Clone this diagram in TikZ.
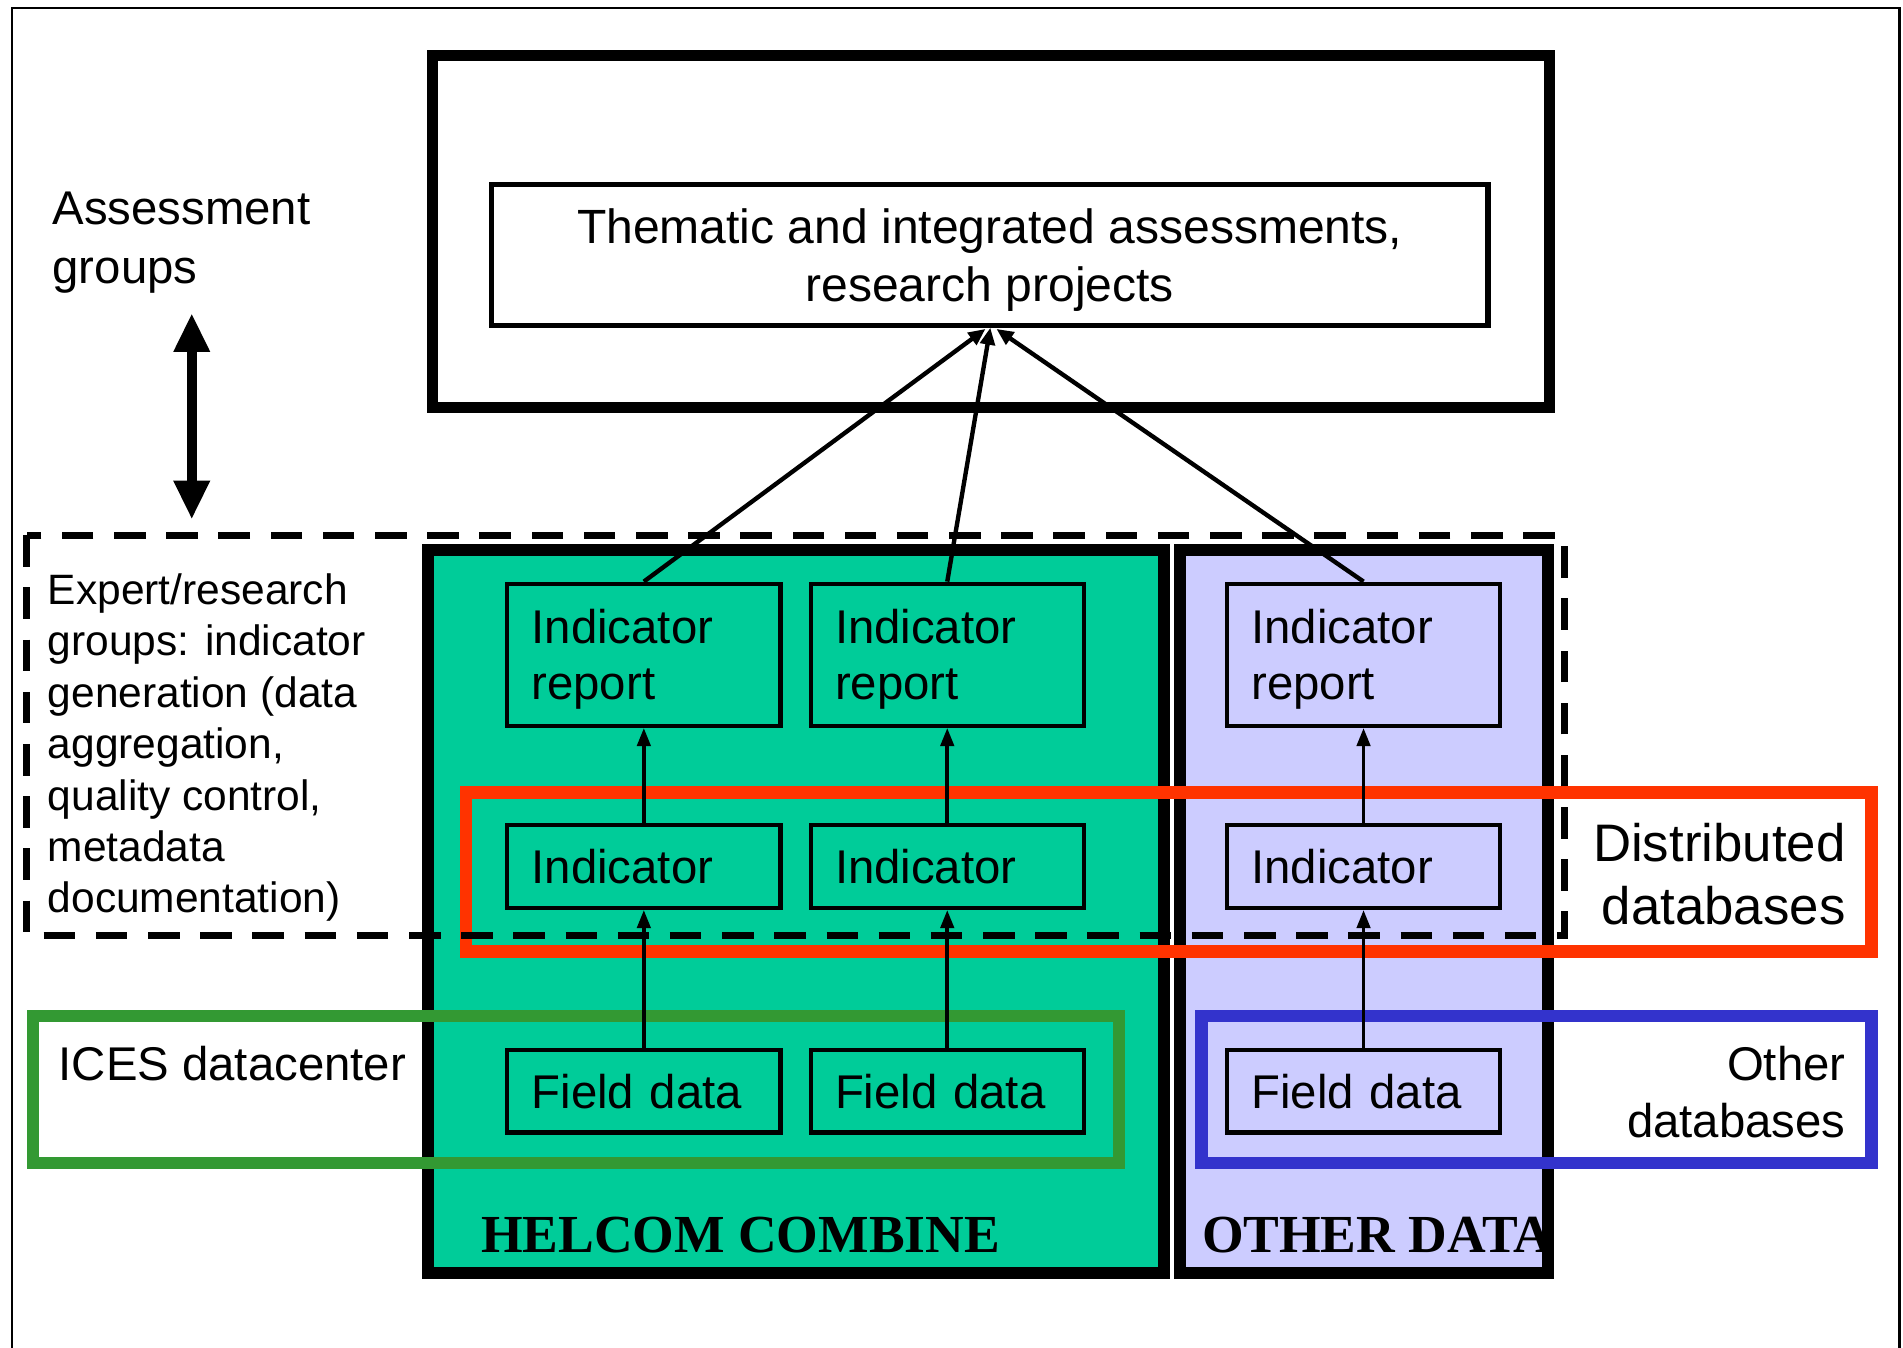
\documentclass[tikz,border=0pt]{standalone}
\usepackage{fontspec}
\setmainfont{Liberation Sans}
\newfontfamily\serifbold{Liberation Serif}[BoldFont={Liberation Serif Bold}]
\usetikzlibrary{arrows.meta}
\definecolor{helcomfill}{HTML}{00CC99}
\definecolor{otherfill}{HTML}{CCCCFF}
\definecolor{redframe}{HTML}{FF3300}
\definecolor{greenframe}{HTML}{339933}
\definecolor{blueframe}{HTML}{3333CC}
\newcommand\fA{\fontsize{19.5}{23}\selectfont}
\newcommand\fB{\fontsize{17.5}{21.2}\selectfont}
\newcommand\fC{\fontsize{21.75}{26}\selectfont}
\newcommand\fD{\fontsize{22.05}{25}\selectfont\serifbold\bfseries}
\begin{document}
\begin{tikzpicture}[x=0.5pt,y=-0.5pt,
  bigbox/.style={draw, line width=4.5pt, minimum width=460.5pt, minimum height=145pt, inner sep=0pt},
  thembox/.style={draw, line width=2.2pt, minimum width=410.5pt, minimum height=58pt, align=center, font=\fontsize{19.8}{24}\selectfont, inner sep=0pt, text depth=0pt},
  panel/.style={draw, line width=5pt, minimum height=297.75pt, inner sep=0pt},
  ibox/.style={draw, line width=1.8pt, minimum width=112.5pt, text width=92.5pt, inner xsep=10pt, inner ysep=0pt, align=left, font=\fA},
  rbox/.style={ibox, minimum height=58.5pt, text height=10pt, text depth=19pt},
  frame/.style={line width=5pt},
  dashbox/.style={line width=3pt, dash pattern=on 13pt off 8.5pt},
  arr/.style={line width=1.5pt, -{Triangle[width=5.5pt,length=7.5pt]}},
  toparr/.style={line width=1.8pt, -{Triangle[width=6pt,length=7pt]}},
  dbl/.style={line width=4pt, {Triangle[width=14pt,length=16pt]}-{Triangle[width=14pt,length=16pt]}},
  lbl/.style={inner sep=0pt, align=left}
]
\useasboundingbox (0,0) rectangle (1568,1110);
\fill[white] (0,0) rectangle (1568,1110);
% outer frame
\draw[line width=1.1pt] (10,1130) -- (10,6.6) -- (1565,6.6) -- (1565,1130);

% top assessment box
\node[bigbox] (top) at (816.5,191) {};
\node[thembox] (them) at (815.5,210) {Thematic and integrated assessments,\\research projects};

% panels
\node[panel, fill=helcomfill, minimum width=303.3pt] (helcom) at (655.7,751.25) {};
\node[panel, fill=otherfill, minimum width=151.75pt] (other) at (1123.75,751.25) {};

% coloured frames
\draw[frame, redframe] (384,653) rectangle (1542,784);
\draw[frame, greenframe] (27,837) rectangle (922,958);
\draw[frame, blueframe] (990,837) rectangle (1542,958);

% dashed expert box
\draw[dashbox] (22,441) rectangle (1289,771);

% inner boxes
\node[rbox, fill=helcomfill] (r1) at (530.5,539.5) {Indicator\\report};
\node[rbox, fill=helcomfill] (r2) at (780.5,539.5) {Indicator\\report};
\node[rbox, fill=otherfill] (r3) at (1123.5,539.5) {Indicator\\report};
\node[ibox, fill=helcomfill, minimum height=34pt] (i1) at (530.5,714) {Indicator};
\node[ibox, fill=helcomfill, minimum height=34pt] (i2) at (780.5,714) {Indicator};
\node[ibox, fill=otherfill, minimum height=34pt] (i3) at (1123.5,714) {Indicator};
\node[ibox, fill=helcomfill, minimum height=34pt] (f1) at (530.5,899) {Field data};
\node[ibox, fill=helcomfill, minimum height=34pt] (f2) at (780.5,899) {Field data};
\node[ibox, fill=otherfill, minimum height=34pt] (f3) at (1123.5,899) {Field data};

% labels
\node[lbl, anchor=west, font=\fontsize{19.5}{24}\selectfont] (assess) at (43,200) {Assessment\\groups};
\node[lbl, anchor=west, font=\fB] (expert) at (39,616) {Expert/research\\groups: indicator\\generation (data\\aggregation,\\quality control,\\metadata\\documentation)};
\node[lbl, anchor=west, font=\fA] (ices) at (48,876) {ICES datacenter};
\node[lbl, anchor=east, align=right, font=\fC] (distr) at (1521,720) {Distributed\\databases};
\node[lbl, anchor=east, align=right, font=\fontsize{19.5}{23.5}\selectfont] (otherdb) at (1521,899.5) {Other\\databases};
\node[lbl, anchor=west, font=\fD] (helcomlbl) at (396,1018) {HELCOM COMBINE};
\node[lbl, anchor=west, font=\fD] (otherlbl) at (990,1018) {OTHER DATA};

% arrows
\draw[arr] (f1.north) -- (i1.south);
\draw[arr] (f2.north) -- (i2.south);
\draw[arr] (f3.north) -- (i3.south);
\draw[arr] (i1.north) -- (r1.south);
\draw[arr] (i2.north) -- (r2.south);
\draw[arr] (i3.north) -- (r3.south);
\coordinate (t1) at (812,271);
\coordinate (t2) at (816,270);
\coordinate (t3) at (821,271);
\draw[toparr] (r1.north) -- (t1);
\draw[toparr] (r2.north) -- (t2);
\draw[toparr] (r3.north) -- (t3);
\coordinate (da) at (158,258);
\coordinate (db) at (158,428);
\draw[dbl] (da) -- (db);
\end{tikzpicture}
\end{document}
